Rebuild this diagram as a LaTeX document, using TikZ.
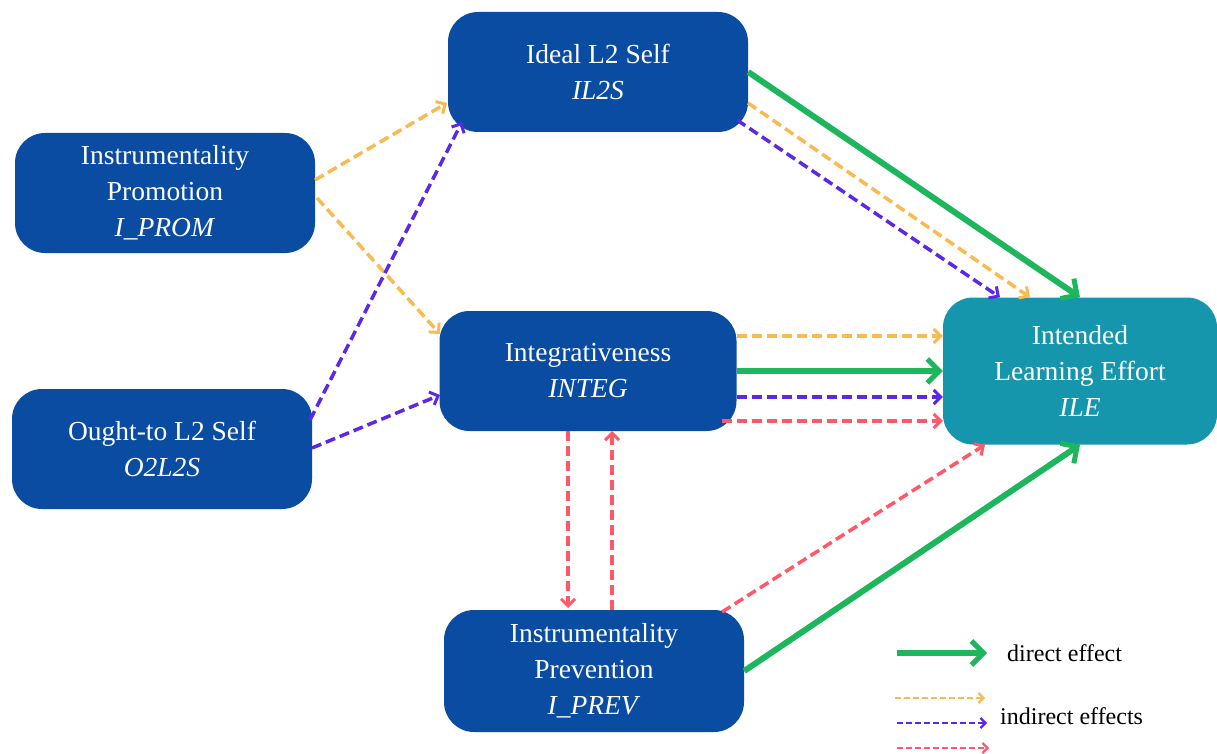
\documentclass[tikz,border=0pt]{standalone}
\usepackage{fontspec}
\setmainfont{Liberation Serif}
\usetikzlibrary{arrows.meta,calc}
\definecolor{nb}{RGB}{10,76,162}
\definecolor{tl}{RGB}{22,150,172}
\definecolor{gr}{RGB}{30,182,92}
\definecolor{orc}{RGB}{250,186,82}
\definecolor{pu}{RGB}{92,40,232}
\definecolor{rd}{RGB}{255,88,104}
\begin{document}
\begin{tikzpicture}[x=1pt,y=-1pt,
  box/.style={fill=nb, rounded corners=30pt, text=white, align=center,
    font=\fontsize{27.5}{36}\selectfont, minimum width=300pt, minimum height=120pt, inner sep=0pt},
  dir/.style={draw=gr, line width=6pt, -{Straight Barb[length=12pt,width=24pt,line width=5pt]}},
  ind/.style={line width=3.5pt, dash pattern=on 10pt off 5pt, -{Straight Barb[length=7pt,width=14pt,line width=3pt]}},
  leg/.style={line width=2.4pt, dash pattern=on 6pt off 3pt, -{Straight Barb[length=5pt,width=10pt,line width=2.2pt]}},
  legtext/.style={anchor=west, font=\fontsize{24}{28}\selectfont, inner sep=0pt}
]
\path[use as bounding box] (0,0) rectangle (1217,754);

\node[box] (il2s) at (598,72) {Ideal L2 Self\\\textit{IL2S}};
\node[box] (iprom) at (165,193) {Instrumentality\\Promotion\\\textit{I\_PROM}};
\node[box] (o2l2s) at (162,449) {Ought-to L2 Self\\\textit{O2L2S}};
\node[box, minimum width=297pt] (integ) at (588,371) {Integrativeness\\\textit{INTEG}};
\node[box, fill=tl, minimum width=274pt, minimum height=147pt] (ile) at (1080,371) {Intended\\Learning Effort\\\textit{ILE}};
\node[box, minimum height=122pt] (iprev) at (594,671) {Instrumentality\\Prevention\\\textit{I\_PREV}};

% IL2S -> ILE
\draw[dir] (il2s.east) -- (ile.north);
\draw[ind, draw=orc] ($(il2s.center)+(150,31)$) -- ($(ile.north)+(-50,0)$);
\draw[ind, draw=pu] ($(il2s.center)+(139,48)$) -- ($(ile.north)+(-80,0)$);

% I_PROM
\draw[ind, draw=orc] ($(iprom.center)+(150,-13)$) -- ($(il2s.center)+(-151,31)$);
\draw[ind, draw=orc] ($(iprom.center)+(152,5)$) -- ($(integ.center)+(-148,-37)$);

% O2L2S
\draw[ind, draw=pu] ($(o2l2s.center)+(148,-29)$) -- ($(il2s.center)+(-136,50)$);
\draw[ind, draw=pu] ($(o2l2s.center)+(150,-1)$) -- ($(integ.center)+(-148,24)$);

% INTEG -> ILE
\draw[ind, draw=orc] ($(integ.east)+(0,-35)$) -- ($(ile.west)+(0,-35)$);
\draw[dir] (integ.east) -- (ile.west);
\draw[ind, draw=pu] ($(integ.east)+(0,26)$) -- ($(ile.west)+(0,26)$);
\draw[ind, draw=rd] ($(integ.east)+(-15,50)$) -- ($(ile.west)+(0,50)$);

% INTEG <-> I_PREV
\draw[ind, draw=rd] ($(integ.center)+(-20,60)$) -- ($(iprev.center)+(-26,-63)$);
\draw[ind, draw=rd] ($(iprev.center)+(18,-61)$) -- ($(integ.center)+(24,60)$);

% I_PREV -> ILE
\draw[ind, draw=rd] ($(iprev.center)+(128,-59)$) -- ($(ile.south)+(-95,0)$);
\draw[dir] (iprev.east) -- (ile.south);

% legend
\coordinate (g1) at (897,653); \coordinate (g2) at (987,653);
\coordinate (o1) at (895,698); \coordinate (o2) at (985,698);
\coordinate (p1) at (897,723); \coordinate (p2) at (987,723);
\coordinate (r1) at (897,748); \coordinate (r2) at (989,748);
\draw[dir] (g1) -- (g2);
\draw[leg, draw=orc] (o1) -- (o2);
\draw[leg, draw=pu] (p1) -- (p2);
\draw[leg, draw=rd] (r1) -- (r2);
\node[legtext] (ldir) at (1007,653) {direct effect};
\node[legtext] (lind) at (1000,716) {indirect effects};
\end{tikzpicture}
\end{document}
